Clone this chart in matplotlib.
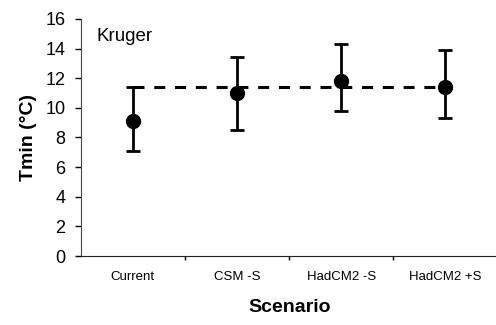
import numpy as np
import matplotlib.pyplot as plt

plt.rcParams['font.family'] = ['Liberation Sans', 'DejaVu Sans']

scenarios = ["Current", "CSM -S", "HadCM2 -S", "HadCM2 +S"]
tmin = [9.1, 11.0, 11.8, 11.4]
err_low = [7.1, 8.5, 9.8, 9.3]
err_high = [11.4, 13.4, 14.3, 13.9]
baseline = 11.4

x = np.arange(len(scenarios))
yerr = [np.array(tmin) - np.array(err_low), np.array(err_high) - np.array(tmin)]

fig = plt.figure(figsize=(4.96, 3.25), dpi=100)
ax = fig.add_axes([0.163, 0.212, 0.84, 0.73])

ax.plot([x[0], x[-1]], [baseline, baseline], color="black", linestyle=(0, (3.6, 3.2)), linewidth=2.2)
ax.errorbar(x, tmin, yerr=yerr, fmt="o", color="black", markersize=10,
            elinewidth=2, capsize=5, capthick=2, zorder=3)

ax.set_xlim(-0.5, 3.5)
ax.set_ylim(0, 16)
ax.set_yticks(np.arange(0, 17, 2))
ax.set_xticks(x)
ax.set_xticklabels(scenarios, fontsize=9.5)
ax.set_xticks(np.arange(0.5, 3.5, 1), minor=True)
ax.tick_params(axis="x", which="major", length=0, pad=11)
ax.tick_params(axis="x", which="minor", length=3, direction="out", width=1)
ax.tick_params(axis="y", labelsize=13, length=4, width=1, pad=7)

for side in ["top", "right"]:
    ax.spines[side].set_visible(False)
ax.spines["left"].set_color("#444444")
ax.spines["bottom"].set_color("#222222")

ax.text(0.038, 0.925, "Kruger", transform=ax.transAxes, fontsize=13.5, va="center")
ax.set_ylabel("Tmin (°C)", fontsize=14, fontweight="bold", labelpad=6)
ax.set_xlabel("Scenario", fontsize=14, fontweight="bold", labelpad=11)

fig.savefig("out.png", dpi=100)
